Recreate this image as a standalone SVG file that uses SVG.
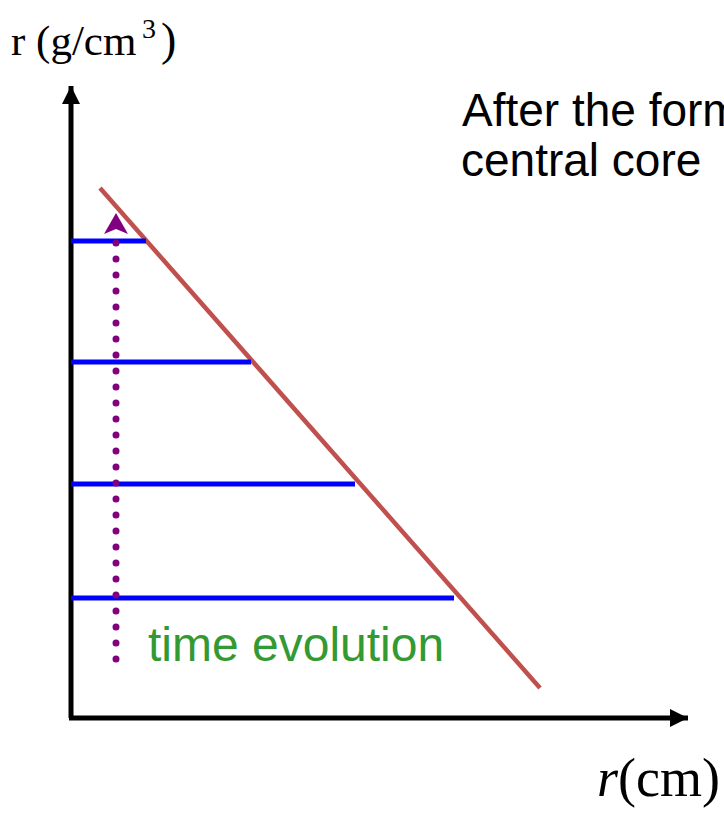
<svg xmlns="http://www.w3.org/2000/svg" width="724" height="814" viewBox="0 0 724 814">
<defs>
<style>
.axis{stroke:#000;stroke-width:5;fill:none}
.lvl{stroke:#0000ff;stroke-width:5}
.sans{font-family:"Liberation Sans",Arial,sans-serif}
.serif{font-family:"Liberation Serif","Times New Roman",serif}
</style>
<marker id="ah" markerUnits="userSpaceOnUse" markerWidth="20" markerHeight="20" refX="18" refY="9" orient="auto" viewBox="0 0 20 18">
<path d="M0,0 L18,9 L0,18 Z" fill="#000"/>
</marker>
</defs>
<rect width="724" height="814" fill="#fff"/>
<g id="axes">
<path class="axis" d="M71,718 L71,86" marker-end="url(#ah)"/>
<path class="axis" d="M69,718 L688,718" marker-end="url(#ah)"/>
</g>
<g id="connectors">
<line x1="100" y1="188" x2="540" y2="688" stroke="#c0504d" stroke-width="4.5"/>
<line class="lvl" x1="71" y1="241" x2="146" y2="241"/>
<line class="lvl" x1="71" y1="362" x2="251" y2="362"/>
<line class="lvl" x1="71" y1="484" x2="355" y2="484"/>
<line class="lvl" x1="71" y1="598" x2="454" y2="598"/>
<line x1="116" y1="659" x2="116" y2="232" stroke="#800080" stroke-width="7" stroke-linecap="round" stroke-dasharray="0 16"/>
<path d="M116,213 L128,234 L116,229 L104,234 Z" fill="#800080"/>
</g>
<g id="labels">
<text class="serif" x="11" y="55" font-size="43">r (g/cm</text>
<text class="serif" x="142" y="38" font-size="28">3</text>
<text class="serif" x="161" y="55" font-size="46">)</text>
<text class="sans" x="462" y="126" font-size="46">After the form</text>
<text class="sans" x="461" y="176" font-size="46">central core</text>
<text class="sans" x="148" y="661" font-size="48" fill="#339933">time evolution</text>
<text class="serif" x="597" y="796" font-size="54"><tspan font-style="italic">r</tspan>(cm)</text>
</g>
</svg>
